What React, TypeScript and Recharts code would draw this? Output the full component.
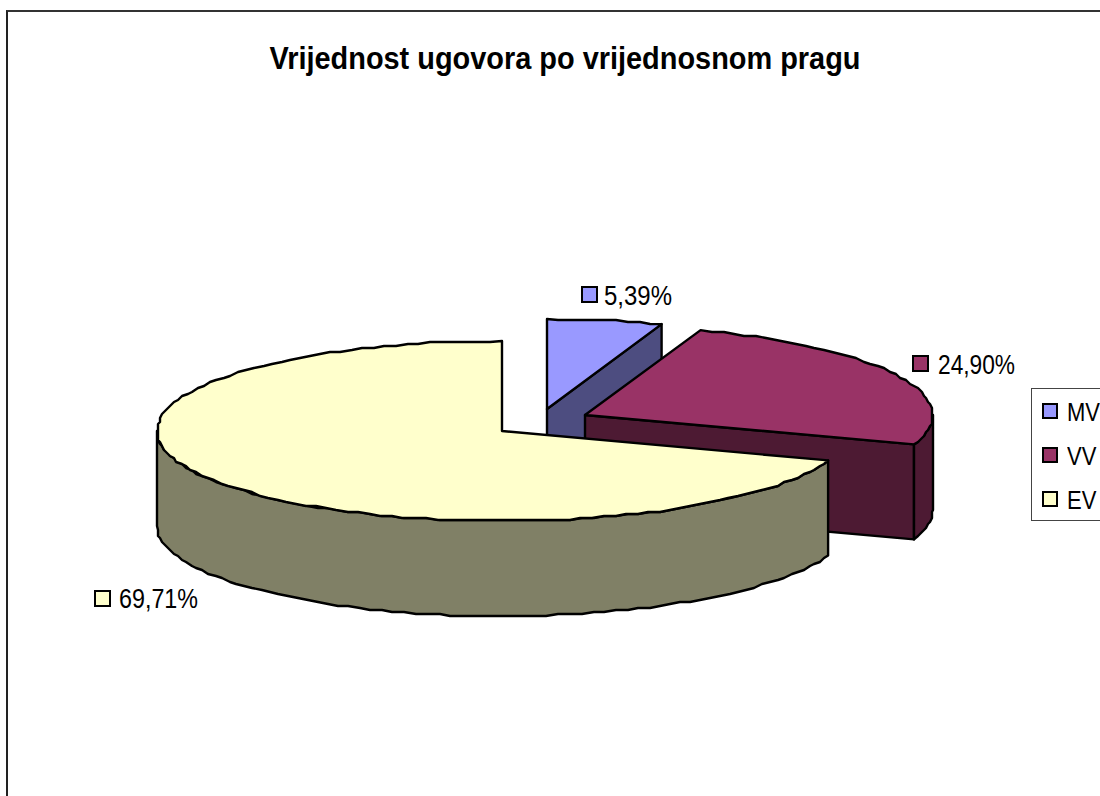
import React from 'react';
import { PieChart, Pie, Legend } from 'recharts';

const categories = ['MV', 'VV', 'EV'];
const shares = [5.39, 24.9, 69.71];
const colors = ['#9999FF', '#993366', '#FFFFCC'];
const titleText = 'Vrijednost ugovora po vrijednosnom pragu';

const rows = categories.map((name, i) => ({ name, value: shares[i], fill: colors[i] }));

const FONT = '"Liberation Sans", Arial, sans-serif';
const RY = 90;
const DEPTH = 95;
const GRID = 2;
const SHIFTS = [
  { dx: 45, dy: -22, grow: 0 },
  { dx: 83, dy: -16, grow: 3 },
  { dx: 0, dy: 0, grow: 0 },
];
const LABELS = [
  { x: 582, y: 287, tx: 604, ty: 305, w: 68 },
  { x: 913, y: 356, tx: 938, ty: 374, w: 77 },
  { x: 95, y: 591, tx: 119, ty: 608, w: 79 },
];

const rad = (a: number) => (a * Math.PI) / 180;
const snap = (v: number) => Math.round(v / GRID) * GRID;
const darken = (hex: string) => {
  const n = parseInt(hex.slice(1), 16);
  const half = (c: number) => Math.round(c / 2).toString(16).padStart(2, '0');
  return `#${half((n >> 16) & 255)}${half((n >> 8) & 255)}${half(n & 255)}`;
};

function arc(x: number, y: number, r: number, from: number, to: number) {
  const pts: [number, number][] = [];
  const n = Math.max(1, Math.ceil(Math.abs(to - from) / 2));
  for (let i = 0; i <= n; i++) {
    const a = rad(from + ((to - from) * i) / n);
    const px = x + r * Math.cos(a);
    const py = y - RY * Math.sin(a);
    const end = i === 0 || i === n;
    pts.push(end ? [px, py] : [snap(px), snap(py)]);
  }
  return pts;
}
const toPath = (pts: [number, number][]) =>
  'M' + pts.map((p) => `${p[0].toFixed(1)},${p[1].toFixed(1)}`).join('L') + 'Z';

function Slice3D(props: any) {
  const { cx, cy, outerRadius, startAngle, endAngle, fill, index } = props;
  const s = SHIFTS[index] ?? SHIFTS[2];
  const x = cx + s.dx;
  const y = cy + s.dy;
  const r = outerRadius + s.grow;
  const dark = darken(fill);
  const common = { stroke: '#000', strokeWidth: 2.4, strokeLinejoin: 'round' as const };
  const parts: React.ReactNode[] = [];
  const edgeWall = (a: number, key: string) => {
    const ex = x + r * Math.cos(rad(a));
    const ey = y - RY * Math.sin(rad(a));
    parts.push(
      <path key={key} d={toPath([[x, y], [ex, ey], [ex, ey + DEPTH], [x, y + DEPTH]])} fill={dark} {...common} />,
    );
  };
  if (Math.cos(rad(endAngle)) > 1e-6) edgeWall(endAngle, 'end');
  if (Math.cos(rad(startAngle)) < -1e-6) edgeWall(startAngle, 'start');
  // visible part of the rim: the lower half of the ellipse
  const hi = Math.min(startAngle, 0);
  const lo = Math.max(endAngle, -180);
  if (hi > lo) {
    const top = arc(x, y, r, hi, lo);
    const bottom = arc(x, y + DEPTH, r, lo, hi);
    parts.push(<path key="rim" d={toPath([...top, ...bottom])} fill={dark} {...common} />);
  }
  const face: [number, number][] = [[x, y], ...arc(x, y, r, startAngle, endAngle)];
  parts.push(<path key="top" d={toPath(face)} fill={fill} {...common} />);
  return <g>{parts}</g>;
}

function SliceLabel(props: any) {
  const { index, value, fill } = props;
  const l = LABELS[index];
  return (
    <g>
      <rect x={l.x} y={l.y} width={15} height={15} fill={fill} stroke="#000" strokeWidth={2} />
      <text
        x={l.tx}
        y={l.ty}
        fontFamily={FONT}
        fontSize={27}
        fill="#000"
        textLength={l.w}
        lengthAdjust="spacingAndGlyphs"
      >
        {Number(value).toFixed(2).replace('.', ',') + '%'}
      </text>
    </g>
  );
}

function LegendBox() {
  return (
    <div
      style={{
        boxSizing: 'border-box',
        width: 200,
        height: 133,
        border: '1.5px solid #444',
        background: '#fff',
        fontFamily: FONT,
        position: 'relative',
      }}
    >
      {rows.map((r, i) => (
        <div key={r.name} style={{ position: 'absolute', left: 10, top: 14 + i * 44, height: 20, whiteSpace: 'nowrap' }}>
          <span
            style={{
              position: 'absolute',
              left: 0,
              top: 0,
              width: 16,
              height: 16,
              boxSizing: 'border-box',
              border: '2px solid #000',
              background: r.fill,
            }}
          />
          <span
            style={{
              position: 'absolute',
              left: 25,
              top: -5,
              fontSize: 25,
              lineHeight: '28px',
              color: '#000',
              transform: 'scaleX(0.88)',
              transformOrigin: 'left center',
            }}
          >
            {r.name}
          </span>
        </div>
      ))}
    </div>
  );
}

export default function App() {
  return (
    <div style={{ position: 'absolute', left: 0, top: 0, width: 1100, height: 796, overflow: 'hidden', background: '#fff' }}>
      <div
        style={{
          position: 'absolute',
          left: 6,
          top: 10,
          width: 1300,
          height: 1000,
          borderLeft: '2px solid #222',
          borderTop: '2px solid #333',
        }}
      />
      <PieChart
        width={1100}
        height={796}
        margin={{ top: 0, right: 0, bottom: 0, left: 0 }}
        style={{ position: 'absolute', left: 0, top: 0 }}
      >
        <text
          x={565}
          y={69}
          textAnchor="middle"
          fontFamily={FONT}
          fontWeight="bold"
          fontSize={31}
          fill="#000"
          textLength={591}
          lengthAdjust="spacingAndGlyphs"
        >
          {titleText}
        </text>
        <Pie
          data={rows}
          dataKey="value"
          nameKey="name"
          cx={502}
          cy={431}
          innerRadius={0}
          outerRadius={345}
          startAngle={90}
          endAngle={-270}
          stroke="none"
          isAnimationActive={false}
          shape={Slice3D}
          label={SliceLabel}
          labelLine={false}
        />
        <Legend content={LegendBox} wrapperStyle={{ position: 'absolute', left: 1031, top: 388, width: 200, height: 133 }} />
      </PieChart>
    </div>
  );
}
